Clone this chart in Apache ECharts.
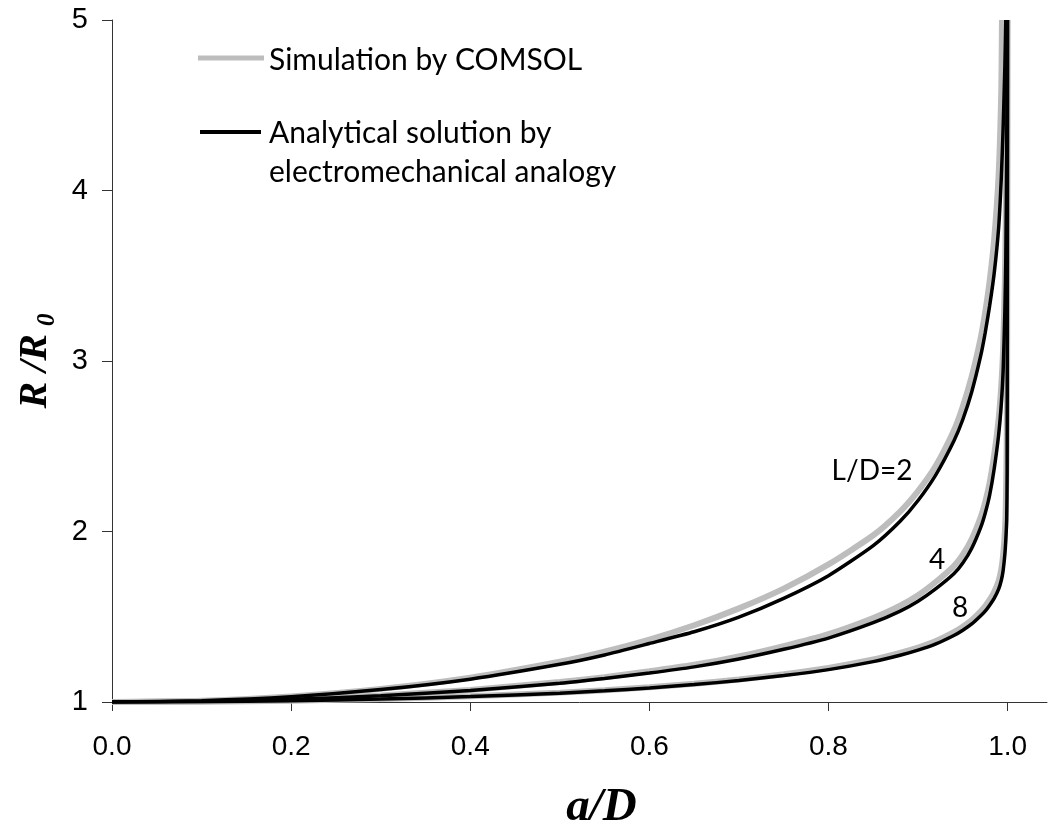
<!DOCTYPE html>
<html>
<head>
<meta charset="utf-8">
<script src="https://cdn.jsdelivr.net/npm/echarts@6/dist/echarts.min.js"></script>
<style>
  html, body { margin: 0; padding: 0; background: #fff; }
  #chart { width: 1058px; height: 832px; }
</style>
</head>
<body>
<div id="chart"></div>
<script>
// ---- data ----
const xTicks = [0, 0.2, 0.4, 0.6, 0.8, 1.0];
const yTicks = [1, 2, 3, 4, 5];

// L/D = 2
const a2Sim = [0, 0.1, 0.2, 0.3, 0.4, 0.5, 0.55, 0.6, 0.65, 0.7, 0.75, 0.8, 0.85, 0.88, 0.9, 0.92, 0.94, 0.95, 0.96, 0.97, 0.975, 0.98, 0.985, 0.99, 0.993, 0.9937];
const r2Sim = [1.000, 1.008, 1.033, 1.077, 1.143, 1.236, 1.295, 1.366, 1.450, 1.549, 1.665, 1.807, 1.978, 2.117, 2.237, 2.387, 2.592, 2.734, 2.910, 3.136, 3.286, 3.470, 3.712, 4.094, 4.600, 5.000];
const a2Ana = [0, 0.1, 0.2, 0.3, 0.4, 0.5, 0.55, 0.6, 0.65, 0.7, 0.75, 0.8, 0.85, 0.88, 0.9, 0.92, 0.94, 0.95, 0.96, 0.97, 0.975, 0.98, 0.985, 0.99, 0.993, 0.995, 0.997, 0.998];
const r2Ana = [1.000, 1.008, 1.031, 1.073, 1.134, 1.221, 1.276, 1.343, 1.412, 1.498, 1.608, 1.741, 1.917, 2.060, 2.182, 2.334, 2.531, 2.657, 2.820, 3.031, 3.166, 3.325, 3.513, 3.781, 4.076, 4.364, 4.736, 5.000];

// L/D = 4
const a4Sim = [0, 0.1, 0.2, 0.3, 0.4, 0.5, 0.55, 0.6, 0.65, 0.7, 0.75, 0.8, 0.85, 0.88, 0.9, 0.92, 0.94, 0.95, 0.96, 0.97, 0.975, 0.98, 0.985, 0.99, 0.993, 0.995, 0.997, 0.998, 0.999, 0.9995];
const r4Sim = [1.000, 1.004, 1.017, 1.038, 1.071, 1.117, 1.146, 1.180, 1.218, 1.267, 1.328, 1.398, 1.493, 1.565, 1.626, 1.705, 1.797, 1.864, 1.956, 2.085, 2.173, 2.287, 2.449, 2.660, 2.860, 3.070, 3.480, 3.850, 4.500, 5.000];
const a4Ana = [0, 0.1, 0.2, 0.3, 0.4, 0.5, 0.55, 0.6, 0.65, 0.7, 0.75, 0.8, 0.85, 0.88, 0.9, 0.92, 0.94, 0.95, 0.96, 0.97, 0.975, 0.98, 0.985, 0.99, 0.993, 0.995, 0.997, 0.998, 0.999, 0.9995];
const r4Ana = [1.000, 1.004, 1.016, 1.036, 1.067, 1.110, 1.138, 1.170, 1.206, 1.252, 1.309, 1.375, 1.465, 1.533, 1.591, 1.665, 1.752, 1.815, 1.902, 2.024, 2.107, 2.214, 2.367, 2.567, 2.750, 2.940, 3.300, 3.600, 4.200, 5.000];

// L/D = 8
const a8Sim = [0, 0.1, 0.2, 0.3, 0.4, 0.5, 0.55, 0.6, 0.65, 0.7, 0.75, 0.8, 0.85, 0.88, 0.9, 0.92, 0.94, 0.95, 0.96, 0.97, 0.975, 0.98, 0.985, 0.99, 0.993, 0.995, 0.997, 0.998, 0.999, 0.9995, 1.0];
const r8Sim = [1.000, 1.002, 1.008, 1.018, 1.034, 1.055, 1.069, 1.086, 1.107, 1.132, 1.163, 1.200, 1.249, 1.288, 1.319, 1.358, 1.410, 1.442, 1.481, 1.532, 1.562, 1.600, 1.645, 1.710, 1.780, 1.860, 2.000, 2.150, 2.500, 3.000, 5.000];
const a8Ana = [0, 0.1, 0.2, 0.3, 0.4, 0.5, 0.55, 0.6, 0.65, 0.7, 0.75, 0.8, 0.85, 0.88, 0.9, 0.92, 0.94, 0.95, 0.96, 0.97, 0.975, 0.98, 0.985, 0.99, 0.993, 0.995, 0.997, 0.998, 0.999, 0.9995, 1.0];
const r8Ana = [1.000, 1.002, 1.008, 1.017, 1.032, 1.052, 1.066, 1.082, 1.102, 1.126, 1.155, 1.190, 1.237, 1.274, 1.304, 1.341, 1.390, 1.421, 1.458, 1.506, 1.533, 1.568, 1.608, 1.662, 1.714, 1.770, 1.870, 1.950, 2.070, 2.350, 5.000];

const simName = 'Simulation by COMSOL';
const anaName = 'Analytical solution by electromechanical analogy';
const curveLabels = ['L/D=2', '4', '8'];

// ---- build ----
function pairs(a, r) { return a.map((v, i) => [v, r[i]]); }
const GRAY = '#bdbdbd';
const BLACK = '#000000';

function lineSeries(name, a, r, color, width, z) {
  return {
    name: name, type: 'line', data: pairs(a, r),
    showSymbol: false, symbol: 'none',
    smooth: 0.2,
    lineStyle: { color: color, width: width },
    z: z, silent: true, animation: false
  };
}

const chart = echarts.init(document.getElementById('chart'), null, { renderer: 'canvas' });

const option = {
  backgroundColor: '#ffffff',
  animation: false,
  grid: { left: 112, right: 11, top: 20, bottom: 130, containLabel: false, outerBoundsMode: 'none' },
  xAxis: {
    type: 'value', min: 0, max: 1.044, interval: 0.2,
    name: 'a/D', nameLocation: 'middle', nameGap: 82,
    nameTextStyle: { fontFamily: 'Liberation Serif', fontStyle: 'italic', fontWeight: 'bold', fontSize: 47, color: '#000', padding: [0, 0, 0, 44] },
    axisLine: { show: true, onZero: false, lineStyle: { color: '#333', width: 1 } },
    axisTick: { show: true, inside: false, length: 9, lineStyle: { color: '#333' }, customValues: xTicks },
    axisLabel: { customValues: xTicks, margin: 31, fontFamily: 'Liberation Sans', fontSize: 28, color: '#000',
                 formatter: v => v.toFixed(1) },
    splitLine: { show: false }
  },
  yAxis: {
    type: 'value', min: 1, max: 5, interval: 1,
    name: '{a|R /R}{b|0}', nameLocation: 'middle', nameGap: 52,
    nameTextStyle: {
      rich: {
        a: { fontFamily: 'Liberation Serif', fontStyle: 'italic', fontWeight: 'bold', fontSize: 40, color: '#000', lineHeight: 48 },
        b: { fontFamily: 'Liberation Serif', fontStyle: 'italic', fontWeight: 'bold', fontSize: 25, color: '#000', verticalAlign: 'bottom', lineHeight: 26, padding: [0, 0, 0, 8] }
      }
    },
    axisLine: { show: true, lineStyle: { color: '#333', width: 1 } },
    axisTick: { show: true, inside: false, length: 10, lineStyle: { color: '#333' }, customValues: yTicks },
    axisLabel: { customValues: yTicks, margin: 24, fontFamily: 'Liberation Sans', fontSize: 29, color: '#000' },
    splitLine: { show: false }
  },
  series: [
    lineSeries(simName, a2Sim, r2Sim, GRAY, 6, 2),
    lineSeries(simName, a4Sim, r4Sim, GRAY, 6, 2),
    lineSeries(simName, a8Sim, r8Sim, GRAY, 6, 2),
    lineSeries(anaName, a2Ana, r2Ana, BLACK, 3.5, 3),
    lineSeries(anaName, a4Ana, r4Ana, BLACK, 3.5, 3),
    lineSeries(anaName, a8Ana, r8Ana, BLACK, 3.5, 3)
  ],
  graphic: [
    { type: 'line', shape: { x1: 198, y1: 58, x2: 264, y2: 58 }, style: { stroke: GRAY, lineWidth: 5 }, z: 10 },
    { type: 'text', x: 269, y: 60, style: { text: simName, fontFamily: 'Lato', fontSize: 30, fill: '#000', verticalAlign: 'middle' }, z: 10 },
    { type: 'line', shape: { x1: 200, y1: 132, x2: 261, y2: 132 }, style: { stroke: BLACK, lineWidth: 4 }, z: 10 },
    { type: 'text', x: 269, y: 133, style: { text: 'Analytical solution by', fontFamily: 'Lato', fontSize: 30, fill: '#000', verticalAlign: 'middle' }, z: 10 },
    { type: 'text', x: 269, y: 172, style: { text: 'electromechanical analogy', fontFamily: 'Lato', fontSize: 30, fill: '#000', verticalAlign: 'middle' }, z: 10 },
    { type: 'text', x: 872, y: 471, style: { text: curveLabels[0], fontFamily: 'Lato', fontSize: 28, fill: '#000', align: 'center', verticalAlign: 'middle' }, z: 10 },
    { type: 'text', x: 937, y: 560, style: { text: curveLabels[1], fontFamily: 'Lato', fontSize: 28, fill: '#000', align: 'center', verticalAlign: 'middle' }, z: 10 },
    { type: 'text', x: 960, y: 608, style: { text: curveLabels[2], fontFamily: 'Lato', fontSize: 28, fill: '#000', align: 'center', verticalAlign: 'middle' }, z: 10 }
  ]
};
chart.setOption(option);
</script>
</body>
</html>
